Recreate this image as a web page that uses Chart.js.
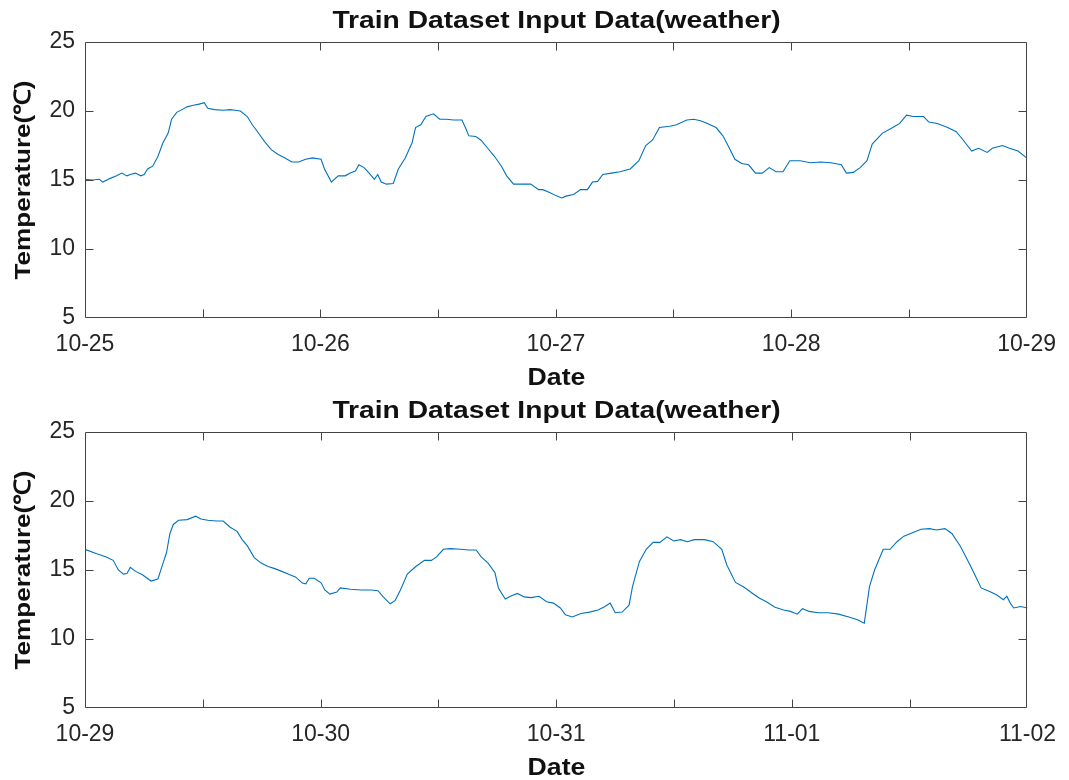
<!DOCTYPE html>
<html>
<head>
<meta charset="utf-8">
<script src="https://cdn.jsdelivr.net/npm/chart.js@4/dist/chart.umd.min.js"></script>
<style>
  html, body { margin: 0; padding: 0; background: #fff; overflow: hidden; }
  body { width: 1069px; height: 780px; position: relative; font-family: "Liberation Sans", Arial, sans-serif; }
  .panel { position: absolute; left: 0; width: 1069px; height: 390px; }
  .panel canvas { position: absolute; left: 0; top: 0; }
  .title, .xlabel, .ylabel { position: absolute; font-weight: bold; color: #111; white-space: nowrap; text-align: center; line-height: 28px; }
  .title { left: 85px; width: 943px; top: 6px; font-size: 23.5px; transform: scaleX(1.2); }
  .xlabel { left: 85px; width: 943px; top: 363px; font-size: 23px; transform: scaleX(1.16); }
  .ylabel { left: -127px; width: 300px; top: 166px; font-size: 22.5px; transform: rotate(-90deg) scaleX(1.16); }
</style>
</head>
<body>
<div class="panel" style="top:0">
  <canvas id="chartTop" width="1069" height="390"></canvas>
  <div class="title">Train Dataset Input Data(weather)</div>
  <div class="ylabel">Temperature(℃)</div>
  <div class="xlabel">Date</div>
</div>
<div class="panel" style="top:390px">
  <canvas id="chartBottom" width="1069" height="390"></canvas>
  <div class="title">Train Dataset Input Data(weather)</div>
  <div class="ylabel">Temperature(℃)</div>
  <div class="xlabel">Date</div>
</div>
<script>
// Hours since midnight of the first day of each panel, and air temperature (°C)
const topHours = [0, 0.77, 1.47, 1.82, 2.52, 3.22, 3.75, 4.27, 4.62, 5.15, 5.68, 6.03, 6.38, 6.90, 7.43, 7.95, 8.48, 8.83, 9.35, 9.88,
  10.41, 10.93, 11.63, 12.16, 12.51, 13.21, 14.08, 14.79, 15.31, 15.84, 16.54, 17.06, 17.59, 18.29, 18.99, 19.69, 20.39, 21.09, 21.79, 22.49,
  23.19, 24.07, 24.42, 25.12, 25.82, 26.52, 27.05, 27.57, 27.92, 28.45, 28.97, 29.50, 29.85, 30.20, 30.73, 31.43, 31.95, 32.65, 33.35, 33.70,
  34.23, 34.76, 35.53, 36.16, 36.86, 37.56, 38.43, 38.78, 39.13, 39.84, 40.36, 41.06, 41.76, 42.46, 42.99, 43.69, 44.57, 45.44, 46.25,
  46.67, 47.37, 48.07, 48.59, 49.12, 49.82, 50.52, 51.22, 51.74, 52.27, 52.79, 53.67, 54.54, 55.59, 56.47, 57.17, 57.87, 58.57, 59.61, 60.31,
  61.36, 62.06, 62.76, 63.46, 64.34, 65.04, 65.56, 66.26, 66.96, 67.66, 68.36, 69.06, 69.76, 70.46, 71.16, 71.86, 72.91, 73.96, 75.01, 76.06,
  77.11, 77.63, 78.33, 79.03, 79.73, 80.26, 81.31, 82.36, 83.06, 83.76, 84.46, 85.50, 86.03, 86.90, 87.95, 88.83, 89.53, 90.40, 91.10, 91.98,
  92.50, 93.55, 94.25, 95.13, 96.0];
const topTemps = [15.05, 15.0, 15.05, 14.85, 15.1, 15.3, 15.5, 15.3, 15.4, 15.5, 15.3, 15.4, 15.8, 16.0, 16.7, 17.7, 18.4, 19.4, 19.9, 20.1,
  20.3, 20.4, 20.5, 20.6, 20.2, 20.1, 20.05, 20.1, 20.05, 20.0, 19.6, 19.0, 18.5, 17.8, 17.2, 16.85, 16.6, 16.3, 16.3, 16.5,
  16.6, 16.5, 15.8, 14.85, 15.3, 15.3, 15.5, 15.65, 16.1, 15.9, 15.5, 15.05, 15.4, 14.85, 14.7, 14.75, 15.8, 16.6, 17.7, 18.8,
  19.0, 19.6, 19.8, 19.4, 19.4, 19.35, 19.35, 18.8, 18.2, 18.15, 17.9, 17.3, 16.7, 16.0, 15.3, 14.7, 14.7, 14.7, 14.3,
  14.3, 14.1, 13.85, 13.7, 13.85, 13.95, 14.3, 14.3, 14.85, 14.9, 15.4, 15.5, 15.6, 15.8, 16.4, 17.5, 17.9, 18.8, 18.9, 19.0,
  19.35, 19.4, 19.3, 19.1, 18.8, 18.2, 17.5, 16.5, 16.2, 16.1, 15.5, 15.5, 15.9, 15.6, 15.6, 16.4, 16.4, 16.25, 16.3, 16.25,
  16.1, 15.5, 15.55, 15.9, 16.4, 17.6, 18.4, 18.8, 19.1, 19.7, 19.6, 19.6, 19.2, 19.1, 18.8, 18.5, 17.9, 17.1, 17.3, 17.0,
  17.3, 17.5, 17.3, 17.1, 16.6];

const bottomHours = [0, 1.12, 2.17, 2.87, 3.40, 3.92, 4.27, 4.62, 5.15, 5.85, 6.73, 7.43, 7.95, 8.30, 8.65, 9.00, 9.53, 10.41, 11.28, 11.81,
  12.51, 13.38, 14.08, 14.79, 15.49, 16.01, 16.54, 17.24, 17.94, 18.64, 19.34, 20.04, 20.74, 21.44, 22.14, 22.49, 22.84, 23.37, 24.07, 24.42,
  24.95, 25.65, 26.00, 27.05, 28.10, 29.15, 29.85, 30.38, 31.08, 31.60, 32.13, 32.83, 33.70, 34.58, 35.28, 35.81, 36.51, 37.21, 38.26, 39.13,
  39.84, 40.36, 41.06, 41.76, 42.11, 42.81, 43.34, 44.04, 44.74, 45.44, 46.25,
  47.02, 47.72, 48.42, 48.94, 49.64, 50.52, 51.39, 52.27, 52.97, 53.49, 54.02, 54.72, 55.42, 55.77, 56.47, 57.17, 57.87, 58.57, 59.27, 59.97,
  60.66, 61.36, 62.06, 63.11, 63.99, 64.86, 65.39, 66.26, 67.14, 68.01, 68.71, 69.41, 70.29, 71.16, 71.86, 72.56, 73.08, 73.78, 74.66, 75.71,
  76.76, 77.81, 78.68, 79.38, 79.91, 80.43, 81.31, 82.01, 82.71, 83.41, 84.11, 85.15, 86.03, 86.73, 87.60, 88.30, 89.18, 90.05, 90.75, 91.28,
  92.15, 92.85, 93.55, 93.90, 94.25, 94.60, 95.30, 96.0];
const bottomTemps = [16.5, 16.2, 15.95, 15.7, 15.0, 14.7, 14.75, 15.2, 14.9, 14.65, 14.2, 14.35, 15.5, 16.25, 17.65, 18.3, 18.6, 18.65, 18.9, 18.7,
  18.6, 18.55, 18.55, 18.1, 17.8, 17.2, 16.75, 15.9, 15.5, 15.25, 15.1, 14.9, 14.7, 14.5, 14.05, 14.0, 14.4, 14.4, 14.05, 13.55,
  13.25, 13.4, 13.7, 13.6, 13.55, 13.55, 13.5, 13.05, 12.55, 12.8, 13.55, 14.7, 15.25, 15.7, 15.7, 15.95, 16.5, 16.55, 16.5, 16.45,
  16.45, 15.95, 15.5, 14.8, 13.7, 12.9, 13.1, 13.3, 13.05, 13.0, 13.1,
  12.7, 12.6, 12.25, 11.75, 11.6, 11.85, 11.95, 12.1, 12.35, 12.6, 11.9, 11.95, 12.45, 13.8, 15.6, 16.5, 17.0, 17.0, 17.4, 17.1,
  17.2, 17.05, 17.2, 17.2, 17.05, 16.5, 15.35, 14.1, 13.75, 13.3, 12.95, 12.7, 12.3, 12.1, 12.0, 11.8, 12.2, 12.0, 11.9, 11.9,
  11.8, 11.6, 11.4, 11.15, 13.8, 15.0, 16.5, 16.5, 17.05, 17.45, 17.65, 17.95, 18.0, 17.9, 18.0, 17.65, 16.7, 15.5, 14.5, 13.7,
  13.45, 13.2, 12.85, 13.1, 12.6, 12.25, 12.35, 12.25];

// Date labels placed at each midnight
const topDays = ['10-25', '10-26', '10-27', '10-28', '10-29'];
const bottomDays = ['10-29', '10-30', '10-31', '11-01', '11-02'];
const yTicks = [5, 10, 15, 20, 25];

const LINE_COLOR = '#0072BD';
const AXIS_COLOR = '#444';
const TICK_FONT = { family: '"Liberation Sans", Arial, sans-serif', size: 23 };

// Axes box with inward tick marks on all four sides
const boxAndTicks = {
  id: 'boxAndTicks',
  afterDatasetsDraw(chart) {
    const { ctx, chartArea: a, scales: { x, y } } = chart;
    const L = Math.round(a.left) + 0.5, R = Math.round(a.right) - 0.5;
    const T = Math.round(a.top) + 0.5, B = Math.round(a.bottom) - 0.5;
    const len = 8;
    ctx.save();
    ctx.strokeStyle = AXIS_COLOR;
    ctx.lineWidth = 1;
    ctx.beginPath();
    ctx.rect(L, T, R - L, B - T);
    x.ticks.forEach(t => {
      const px = Math.round(x.getPixelForValue(t.value)) + 0.5;
      if (px <= L + 1 || px >= R - 1) return;
      ctx.moveTo(px, B); ctx.lineTo(px, B - len);
      ctx.moveTo(px, T); ctx.lineTo(px, T + len);
    });
    y.ticks.forEach(t => {
      const py = Math.round(y.getPixelForValue(t.value)) + 0.5;
      if (py <= T + 1 || py >= B - 1) return;
      ctx.moveTo(L, py); ctx.lineTo(L + len, py);
      ctx.moveTo(R, py); ctx.lineTo(R - len, py);
    });
    ctx.stroke();
    ctx.restore();
  }
};

function makeChart(id, hours, temps, days) {
  const points = hours.map((h, i) => ({ x: h, y: temps[i] }));
  return new Chart(document.getElementById(id), {
    type: 'line',
    data: {
      datasets: [{
        data: points,
        borderColor: LINE_COLOR,
        borderWidth: 1.1,
        pointRadius: 0,
        tension: 0,
        fill: false
      }]
    },
    options: {
      responsive: false,
      animation: false,
      devicePixelRatio: 1,
      layout: { padding: { top: 42, right: 41, bottom: 0, left: 0 } },
      plugins: { legend: { display: false }, tooltip: { enabled: false }, title: { display: false } },
      scales: {
        x: {
          type: 'linear',
          min: 0,
          max: (days.length - 1) * 24,
          afterBuildTicks(scale) {
            const ticks = [];
            for (let h = 0; h <= (days.length - 1) * 24; h += 12) ticks.push({ value: h });
            scale.ticks = ticks;
          },
          ticks: {
            autoSkip: false,
            maxRotation: 0,
            padding: 13,
            color: '#262626',
            font: TICK_FONT,
            callback: v => (v % 24 === 0 ? days[v / 24] : '')
          },
          grid: { display: false, drawTicks: false },
          border: { display: false },
          afterFit(scale) { scale.height = 72; }
        },
        y: {
          min: yTicks[0],
          max: yTicks[yTicks.length - 1],
          afterBuildTicks(scale) { scale.ticks = yTicks.map(v => ({ value: v })); },
          ticks: { padding: 10, color: '#262626', font: TICK_FONT },
          grid: { display: false, drawTicks: false },
          border: { display: false },
          afterFit(scale) { scale.width = 85; }
        }
      }
    },
    plugins: [boxAndTicks]
  });
}

makeChart('chartTop', topHours, topTemps, topDays);
makeChart('chartBottom', bottomHours, bottomTemps, bottomDays);
</script>
</body>
</html>
